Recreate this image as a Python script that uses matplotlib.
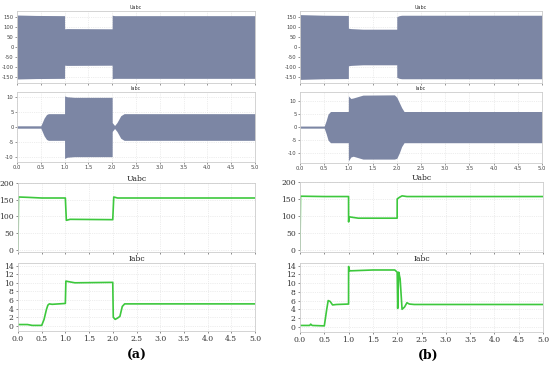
import numpy as np
import matplotlib.pyplot as plt

plt.rcParams["axes.unicode_minus"] = False

# envelope of the three-phase waveforms (time, upper, lower)
ua_t = [0.0, 0.02, 0.4, 0.999, 1.0, 1.05, 1.999, 2.0, 2.05, 5.0]
ua_hi = [158, 158, 156, 155, 90, 91, 90, 157, 155, 155]
ua_lo = [-158, -158, -156, -155, -90, -91, -90, -157, -155, -155]

ia_t = [0.0, 0.5, 0.53, 0.57, 0.62, 0.66, 0.999, 1.0, 1.05, 1.2, 1.999, 2.0, 2.05, 2.1, 2.18, 2.25, 5.0]
ia_hi = [0.4, 0.4, 1.5, 3.0, 4.2, 4.5, 4.5, 10.5, 10.2, 10.0, 10.0, 1.5, 0.5, 1.5, 3.8, 4.5, 4.5]
ia_lo = [-0.4, -0.4, -1.5, -3.0, -4.2, -4.5, -4.5, -10.6, -10.2, -10.0, -10.0, -1.5, -0.5, -1.5, -3.8, -4.5, -4.5]

ub_t = [0.0, 0.02, 0.5, 0.999, 1.0, 1.05, 1.3, 1.999, 2.0, 2.05, 2.1, 5.0]
ub_hi = [160, 160, 157, 156, 93, 91, 88, 88, 150, 155, 157, 157]
ub_lo = [-160, -160, -157, -156, -93, -91, -88, -88, -150, -155, -157, -157]

ib_t = [0.0, 0.5, 0.54, 0.58, 0.63, 0.7, 0.999, 1.0, 1.05, 1.1, 1.3, 1.95, 2.0, 2.05, 2.1, 2.15, 5.0]
ib_hi = [0.4, 0.4, 2.5, 5.0, 6.0, 6.0, 6.0, 12.0, 11.0, 11.2, 12.3, 12.4, 11.5, 9.5, 7.5, 6.0, 6.0]
ib_lo = [-0.4, -0.4, -2.5, -5.0, -6.0, -6.0, -6.0, -13.0, -11.5, -11.2, -12.3, -12.3, -12.0, -10.0, -7.5, -6.0, -6.0]

# RMS curves
ura_t = [0.0, 0.01, 0.2, 0.5, 0.999, 1.02, 1.1, 1.999, 2.02, 2.1, 5.0]
ura_v = [0, 158, 157, 155, 155, 88, 91, 90, 158, 155, 155]

ira_t = [0.0, 0.2, 0.3, 0.5, 0.55, 0.6, 0.63, 0.66, 0.72, 0.999, 1.01, 1.05, 1.2, 1.999, 2.01, 2.05, 2.1, 2.15, 2.2, 2.25, 2.4, 5.0]
ira_v = [0.3, 0.3, 0.1, 0.1, 1.5, 3.8, 4.8, 5.1, 5.0, 5.2, 10.4, 10.3, 10.0, 10.1, 2.0, 1.5, 1.8, 2.2, 4.5, 5.1, 5.1, 5.1]

urb_t = [0.0, 0.01, 0.5, 0.999, 1.0, 1.01, 1.2, 1.999, 2.0, 2.05, 2.1, 2.2, 5.0]
urb_v = [0, 158, 157, 157, 82, 97, 93, 93, 150, 155, 159, 157, 157]

irb_t = [0.0, 0.2, 0.22, 0.25, 0.5, 0.55, 0.58, 0.62, 0.67, 0.75, 0.999, 1.0, 1.02, 1.5, 1.95, 2.0, 2.01, 2.03, 2.06, 2.1, 2.15, 2.2, 2.25, 2.35, 5.0]
irb_v = [0.3, 0.3, 0.6, 0.3, 0.2, 4.0, 6.0, 5.8, 5.0, 5.1, 5.2, 13.8, 12.8, 13.0, 13.0, 12.5, 4.2, 12.5, 11.0, 4.0, 4.5, 5.5, 5.2, 5.1, 5.1]

W, H = 550, 367
fig = plt.figure(figsize=(5.5, 3.67), dpi=100)


def ax_px(l, t, r, b):
    return fig.add_axes([l / W, 1 - b / H, (r - l) / W, (b - t) / H])


band_col = "#7c86a4"
green = "#3dc83d"
xt = np.arange(0, 5.01, 0.5)


def wave_panel(ax, t, hi, lo, title, yticks, ylim, show_x):
    ax.fill_between(t, lo, hi, color=band_col, lw=0)
    ax.set_xlim(0, 5)
    ax.set_ylim(*ylim)
    ax.set_yticks(yticks)
    ax.set_xticks(xt)
    ax.grid(True, color="#dddddd", ls=":", lw=0.5)
    ax.set_axisbelow(True)
    for s in ax.spines.values():
        s.set_color("#cccccc")
        s.set_linewidth(0.6)
    ax.tick_params(labelsize=3.8, length=1.5, width=0.4, colors="#444444", pad=1)
    if show_x:
        ax.set_xticklabels([f"{v:.1f}" for v in xt])
    else:
        ax.set_xticklabels([])
    ax.set_title(title, fontsize=3.5, pad=1.5, color="#333333")


def rms_panel(ax, t, v, title, yticks, ylim, show_x):
    ax.plot(t, v, color=green, lw=1.2)
    ax.set_xlim(0, 5)
    ax.set_ylim(*ylim)
    ax.set_yticks(yticks)
    ax.set_xticks(xt)
    ax.grid(True, color="#dddddd", ls=":", lw=0.5)
    for s in ax.spines.values():
        s.set_color("#cccccc")
        s.set_linewidth(0.6)
    ax.tick_params(labelsize=5.5, length=1.5, width=0.4, colors="#333333", pad=1.5)
    for lab in ax.get_xticklabels() + ax.get_yticklabels():
        lab.set_family("DejaVu Serif")
    if show_x:
        ax.set_xticklabels([f"{v:.1f}" for v in xt], family="DejaVu Serif")
    else:
        ax.set_xticklabels([])
    ax.set_title(title, fontsize=5.5, pad=1.5, family="DejaVu Serif", color="#222222")


u_ticks = [-150, -100, -50, 0, 50, 100, 150]
i_ticks = [-10, -5, 0, 5, 10]

ax = ax_px(17, 11, 255, 83)
wave_panel(ax, ua_t, ua_hi, ua_lo, "Uabc", u_ticks, (-178, 178), False)
ax = ax_px(17, 92, 255, 162)
wave_panel(ax, ia_t, ia_hi, ia_lo, "Iabc", i_ticks, (-11.8, 11.8), True)
ax = ax_px(18, 183, 255, 252)
rms_panel(ax, ura_t, ura_v, "Uabc", [0, 50, 100, 150, 200], (-7, 200), False)
ax = ax_px(18, 263, 255, 331)
rms_panel(ax, ira_t, ira_v, "Iabc", list(range(0, 15, 2)), (-1.2, 14.6), True)

ax = ax_px(300, 11, 542, 83)
wave_panel(ax, ub_t, ub_hi, ub_lo, "Uabc", u_ticks, (-178, 178), False)
ax = ax_px(300, 92, 542, 163)
wave_panel(ax, ib_t, ib_hi, ib_lo, "Iabc", i_ticks, (-13.8, 13.5), True)
ax = ax_px(300, 182, 543, 252)
rms_panel(ax, urb_t, urb_v, "Uabc", [0, 50, 100, 150, 200], (-7, 200), False)
ax = ax_px(300, 263, 543, 332)
rms_panel(ax, irb_t, irb_v, "Iabc", list(range(0, 15, 2)), (-1.2, 14.6), True)

fig.text(137 / W, 1 - 355 / H, "(a)", ha="center", va="center", fontsize=9,
         family="DejaVu Serif", fontweight="bold")
fig.text(428 / W, 1 - 355 / H, "(b)", ha="center", va="center", fontsize=9,
         family="DejaVu Serif", fontweight="bold")

fig.savefig("out.png", dpi=100)
